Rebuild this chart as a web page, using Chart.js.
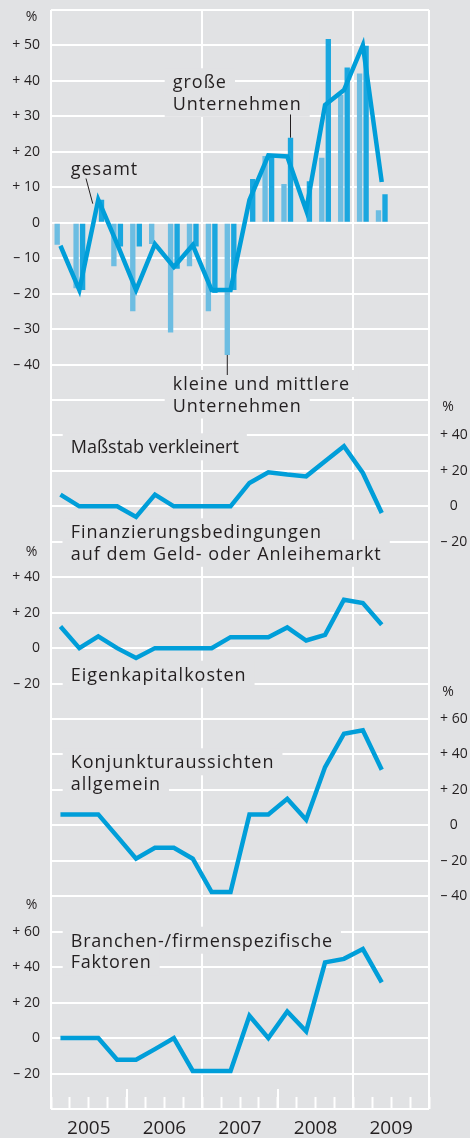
<!DOCTYPE html>
<html>
<head>
<meta charset="utf-8">
<script src="https://cdn.jsdelivr.net/npm/chart.js@4.4.1/dist/chart.umd.min.js"></script>
<style>
  html, body { margin: 0; padding: 0; background: #e1e2e4; }
  canvas { display: block; }
</style>
</head>
<body>
<canvas id="myChart" width="470" height="1138"></canvas>
<script>
// quarters on the x axis (2005 Q1 .. 2009 Q4)
const quarters = [
  '2005 Q1', '2005 Q2', '2005 Q3', '2005 Q4',
  '2006 Q1', '2006 Q2', '2006 Q3', '2006 Q4',
  '2007 Q1', '2007 Q2', '2007 Q3', '2007 Q4',
  '2008 Q1', '2008 Q2', '2008 Q3', '2008 Q4',
  '2009 Q1', '2009 Q2', '2009 Q3', '2009 Q4'
];
const years = [2005, 2006, 2007, 2008, 2009];

// top panel, in %
const gesamt = [-6.5, -19, 6.5, -6, -19, -6, -12.5, -6.3, -19, -19, 6.4, 19, 18.7, 3.5, 33.2, 37.4, 50.1, 11.5];
const kleineMittlere = [-6.2, -18.5, null, -12.3, -25, -6, -31, -12.3, -25, -37.3, null, 18.8, 10.9, null, 18.3, 36, 42.1, 3.5];
const grosse = [null, -19, 6.5, -6.7, -6.7, null, -13, -6.7, -19.8, -19, 12.3, 19, 24, 11.7, 51.8, 43.8, 49.9, 8];

// lower panels, in %
const massstab = [6.6, 0, 0, 0, -6, 6.6, 0, 0, 0, 0, 13.2, 19.2, 17.9, 16.9, 25.4, 33.9, 18.8, -3.8];
const finanzierung = [12.2, 0, 6.6, 0, -5.6, 0, 0, 0, 0, 6.2, 6.2, 6.2, 11.7, 4.3, 7.5, 27.3, 25.4, 13.2];
const konjunktur = [6.2, 6.2, 6.2, -6.2, -18.8, -12.6, -12.6, -18.8, -37.6, -37.6, 6.2, 6.2, 15, 3.2, 32.9, 51.7, 53.6, 31.4];
const branchen = [0, 0, 0, -12.2, -12.2, -6.2, 0, -18.5, -18.5, -18.5, 12.6, 0, 15, 3.8, 42.7, 44.7, 50.2, 31.4];

// texts
const textGesamt = ['gesamt'];
const textGross = ['große', 'Unternehmen'];
const textKlein = ['kleine und mittlere', 'Unternehmen'];
const textMassstab = ['Maßstab verkleinert'];
const textFinanz = ['Finanzierungsbedingungen', 'auf dem Geld- oder Anleihemarkt'];
const textEigen = ['Eigenkapitalkosten'];
const textKonj = ['Konjunkturaussichten', 'allgemein'];
const textBranchen = ['Branchen-/firmenspezifische', 'Faktoren'];

const BG = '#e1e2e4';
const TEXT = '#231f20';
const LINE = '#009ed9';
const DARK = '#1aa7df';
const LIGHT = '#6cbde2';

Chart.defaults.font.family = "'Open Sans', sans-serif";

// where the notes sit (pixels)
const noteLayout = [
  {lines: textGesamt, x: 70.7, y: 175},
  {lines: textGross, x: 172.7, y: 88.3},
  {lines: textKlein, x: 172.7, y: 390},
  {lines: textMassstab, x: 70.7, y: 453.3, spacing: 0},
  {lines: textFinanz, x: 70.7, y: 538.3},
  {lines: textEigen, x: 70.7, y: 680.7},
  {lines: textKonj, x: 70.7, y: 768.3},
  {lines: textBranchen, x: 70.7, y: 946.7, spacing: 0.8}
];
const pctLayout = [
  {axis: 'y1', value: 58, x: 31.5},
  {axis: 'y2', value: 56, x: 448},
  {axis: 'y3', value: 54, x: 31.5},
  {axis: 'y4', value: 75, x: 448},
  {axis: 'y5', value: 75, x: 31.5}
];

function fixSize(w, h) {
  return function (scale) {
    if (w !== null) scale.width = w;
    if (h !== null) scale.height = h;
    scale.paddingTop = 0;
    scale.paddingBottom = 0;
    scale.paddingLeft = 0;
    scale.paddingRight = 0;
  };
}

function pctLabel(lo, hi) {
  return function (value) {
    if (value < lo || value > hi) return '';
    if (value > 0) return '+ ' + value;
    if (value < 0) return '\u2013 ' + (-value);
    return '0';
  };
}

// each panel axis takes its own slice of the left or right stack
function panelAxis(position, min, max, step, lo, hi, units, weight) {
  const left = position === 'left';
  return {
    type: 'linear',
    position: position,
    stack: position,
    stackWeight: units,
    weight: weight,
    min: min,
    max: max,
    afterFit: fixSize(left ? 51 : 41, null),
    border: {display: false},
    grid: left
      ? {display: true, color: '#ffffff', lineWidth: 2, drawTicks: false}
      : {display: false, drawTicks: false},
    ticks: {
      stepSize: step,
      autoSkip: false,
      padding: 11,
      crossAlign: left ? 'near' : 'center',
      color: TEXT,
      font: {size: 14},
      callback: pctLabel(lo, hi)
    }
  };
}

const yearTicks = [];
years.forEach(y => { yearTicks.push(y, y + 0.5); });
yearTicks.push(2010);
const fullLines = [2005, 2007, 2009, 2010];
const longTicks = [2006, 2008];

function lineSet(data, axis) {
  return {
    type: 'line',
    data: data,
    xAxisID: 'x',
    yAxisID: axis,
    borderColor: LINE,
    borderWidth: 4.5,
    borderJoinStyle: 'miter',
    borderCapStyle: 'butt',
    pointRadius: 0,
    tension: 0,
    order: 0
  };
}

const notes = {
  id: 'notes',
  beforeDatasetsDraw(chart) {
    const ctx = chart.ctx;
    ctx.save();
    ctx.fillStyle = BG;
    noteLayout.forEach(n => {
      ctx.font = "18px 'Open Sans'";
      ctx.letterSpacing = (n.spacing === undefined ? 1 : n.spacing) + 'px';
      n.lines.forEach((line, i) => {
        const y = n.y + i * 21.5;
        const w = ctx.measureText(line).width;
        ctx.fillRect(n.x - 8, y - 20, w + 16, 27);
      });
    });
    ctx.fillStyle = TEXT;
    ctx.textBaseline = 'alphabetic';
    noteLayout.forEach(n => {
      ctx.font = "18px 'Open Sans'";
      ctx.letterSpacing = (n.spacing === undefined ? 1 : n.spacing) + 'px';
      n.lines.forEach((line, i) => {
        ctx.fillText(line, n.x, n.y + i * 21.5);
      });
    });
    ctx.letterSpacing = '0px';
    ctx.font = "14px 'Open Sans'";
    ctx.textAlign = 'center';
    ctx.textBaseline = 'middle';
    pctLayout.forEach(p => {
      ctx.fillText('%', p.x, chart.scales[p.axis].getPixelForValue(p.value));
    });
    ctx.restore();
  },
  afterDatasetsDraw(chart) {
    const ctx = chart.ctx;
    const s = chart.scales.y1;
    ctx.save();
    ctx.strokeStyle = TEXT;
    ctx.lineWidth = 1;
    // gesamt pointer
    const p = chart.getDatasetMeta(0).data[2];
    ctx.beginPath();
    ctx.moveTo(86, 178.5);
    ctx.lineTo(p.x - 5.5, p.y + 4);
    ctx.stroke();
    // große pointer, to the bar of 2008 Q1
    const b = chart.getDatasetMeta(6).data[12];
    ctx.beginPath();
    ctx.moveTo(b.x, 114.5);
    ctx.lineTo(b.x, s.getPixelForValue(grosse[12]));
    ctx.stroke();
    // kleine pointer, to the bar of 2007 Q2
    const k = chart.getDatasetMeta(5).data[9];
    ctx.beginPath();
    ctx.moveTo(k.x, s.getPixelForValue(kleineMittlere[9]));
    ctx.lineTo(k.x, 375);
    ctx.stroke();
    ctx.restore();
  }
};

const config = {
  type: 'bar',
  data: {
    labels: quarters,
    datasets: [
      lineSet(gesamt, 'y1'),
      lineSet(massstab, 'y2'),
      lineSet(finanzierung, 'y3'),
      lineSet(konjunktur, 'y4'),
      lineSet(branchen, 'y5'),
      {type: 'bar', data: kleineMittlere, xAxisID: 'x', yAxisID: 'y1', backgroundColor: LIGHT,
       categoryPercentage: 0.69, barPercentage: 0.82, order: 1},
      {type: 'bar', data: grosse, xAxisID: 'x', yAxisID: 'y1', backgroundColor: DARK,
       categoryPercentage: 0.69, barPercentage: 0.82, order: 1}
    ]
  },
  options: {
    responsive: false,
    animation: false,
    devicePixelRatio: 1,
    layout: {padding: {top: 10, left: 0, right: 0, bottom: 0}},
    plugins: {legend: {display: false}, tooltip: {enabled: false}},
    scales: {
      x: {
        type: 'category',
        position: 'bottom',
        offset: true,
        weight: 0,
        afterFit: fixSize(null, 0),
        border: {display: false},
        grid: {display: true, offset: true, drawOnChartArea: false, drawTicks: true,
               tickLength: -12, tickColor: '#ffffff', tickWidth: 2},
        ticks: {display: false}
      },
      x2: {
        type: 'linear',
        position: 'bottom',
        min: 2005,
        max: 2010,
        offset: false,
        weight: 1,
        afterFit: fixSize(null, 29),
        afterBuildTicks: scale => { scale.ticks = yearTicks.map(v => ({value: v})); },
        border: {display: false},
        grid: {
          display: true,
          offset: false,
          lineWidth: 2,
          color: c => (c.tick && fullLines.includes(c.tick.value)) ? '#ffffff' : 'rgba(0,0,0,0)',
          drawTicks: true,
          tickLength: -20,
          tickWidth: 2,
          tickColor: c => (c.tick && longTicks.includes(c.tick.value)) ? '#ffffff' : 'rgba(0,0,0,0)'
        },
        ticks: {
          autoSkip: false,
          maxRotation: 0,
          padding: 28,
          color: TEXT,
          font: {size: 19},
          callback: v => Number.isInteger(v) ? '' : String(Math.floor(v))
        }
      },
      y1: panelAxis('left', -60, 60, 10, -40, 50, 12, 3),
      y3: panelAxis('left', -80, 120, 20, -20, 40, 10, 2),
      y5: panelAxis('left', -40, 140, 20, -20, 60, 9, 1),
      y2: panelAxis('right', -60, 280, 20, -20, 40, 17, 1),
      y4: panelAxis('right', -160, 120, 20, -40, 60, 14, 2)
    }
  },
  plugins: [notes]
};

const myChart = new Chart(document.getElementById('myChart'), config);
</script>
</body>
</html>
